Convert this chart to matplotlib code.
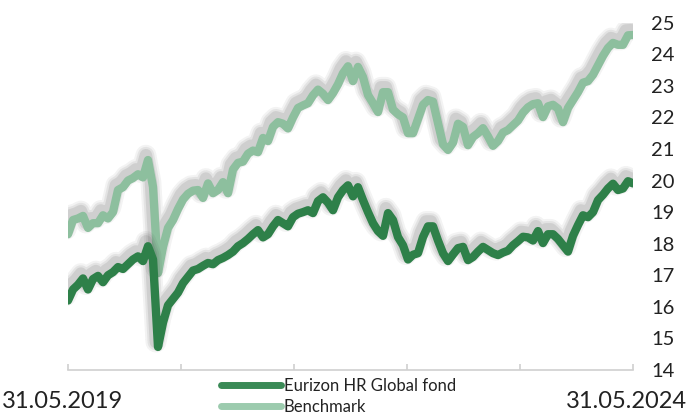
import numpy as np
import pandas as pd
import matplotlib
matplotlib.use("Agg")
import matplotlib.pyplot as plt
import matplotlib.patheffects as pe

plt.rcParams['font.family'] = ['Lato', 'DejaVu Sans']

# vrijednosti očitane s grafa (ravnomjerno raspoređene od 31.05.2019 do 31.05.2024)
fund = [16.2, 16.55, 16.7, 16.9, 16.55, 16.88, 16.98, 16.78, 17.0, 17.1,
        17.26, 17.2, 17.35, 17.5, 17.6, 17.45, 17.92, 17.5, 14.73, 15.5,
        16.05, 16.25, 16.45, 16.75, 16.95, 17.15, 17.2, 17.3, 17.39, 17.35,
        17.48, 17.55, 17.64, 17.75, 17.92, 18.02, 18.15, 18.3, 18.43, 18.2,
        18.3, 18.55, 18.75, 18.65, 18.55, 18.84, 18.95, 19.0, 19.06, 18.97,
        19.35, 19.47, 19.3, 19.06, 19.47, 19.7, 19.85, 19.5, 19.79, 19.38,
        19.0, 18.65, 18.4, 18.25, 18.97, 18.75, 18.21, 17.95, 17.5, 17.65,
        17.7, 18.21, 18.55, 18.55, 18.1, 17.7, 17.45, 17.66, 17.86, 17.9,
        17.48, 17.58, 17.75, 17.9, 17.8, 17.7, 17.64, 17.72, 17.78, 17.95,
        18.08, 18.22, 18.2, 18.1, 18.4, 18.02, 18.3, 18.3, 18.15, 17.95,
        17.75, 18.25, 18.59, 18.9, 18.84, 19.0, 19.38, 19.55, 19.75, 19.9,
        19.7, 19.75, 19.98, 19.91]

benchmark = [18.3, 18.75, 18.8, 18.88, 18.5, 18.65, 18.65, 18.9, 18.8, 19.0,
             19.7, 19.79, 20.0, 20.08, 20.2, 20.1, 20.65, 19.8, 17.07, 17.9,
             18.5, 18.75, 19.1, 19.4, 19.58, 19.68, 19.7, 19.45, 19.91, 19.6,
             19.7, 19.95, 19.6, 20.35, 20.56, 20.6, 20.85, 20.95, 20.9, 21.35,
             21.25, 21.7, 21.85, 21.8, 21.65, 22.0, 22.3, 22.38, 22.45, 22.7,
             22.88, 22.75, 22.55, 22.77, 23.05, 23.4, 23.62, 23.15, 23.6, 23.28,
             22.71, 22.45, 22.17, 22.8, 22.8, 22.25, 22.1, 22.0, 21.5, 21.5,
             21.95, 22.4, 22.55, 22.5, 21.82, 21.15, 20.97, 21.2, 21.8, 21.7,
             21.12, 21.38, 21.5, 21.66, 21.4, 21.1, 21.25, 21.52, 21.6, 21.75,
             21.9, 22.15, 22.32, 22.42, 22.45, 22.01, 22.35, 22.4, 22.28, 21.85,
             22.3, 22.55, 22.8, 23.1, 23.15, 23.35, 23.65, 23.95, 24.2, 24.36,
             24.3, 24.3, 24.6, 24.61]

labels = ['Eurizon HR Global fond', 'Benchmark']
start, end = '2019-05-31', '2024-05-31'
yticks = list(range(14, 26))

dates = pd.date_range(start, end, periods=len(fund))
year_ticks = pd.DatetimeIndex([pd.Timestamp(start) + pd.DateOffset(years=k) for k in range(6)])

fig = plt.figure(figsize=(6.89, 4.15), dpi=100)
ax = fig.add_axes([68 / 689, 45 / 415, 565 / 689, 347.3 / 415])

def shadow():
    fx = []
    for lw, a in [(15, 0.06), (12, 0.08), (9, 0.11)]:
        fx.append(pe.SimpleLineShadow(offset=(-1.5, 3.5), shadow_color='#333333',
                                      alpha=a, linewidth=lw))
    fx.append(pe.Normal())
    return fx

c_fund = '#2e8049'
c_bench = '#8dbf9e'
ax.plot(dates, benchmark, color=c_bench, lw=6, solid_capstyle='round',
        solid_joinstyle='round', path_effects=shadow(), label=labels[1])
ax.plot(dates, fund, color=c_fund, lw=6, solid_capstyle='round',
        solid_joinstyle='round', path_effects=shadow(), label=labels[0])

ax.set_xlim(pd.Timestamp(start), pd.Timestamp(end))
ax.set_ylim(14, 25)

for s in ['top', 'left', 'right']:
    ax.spines[s].set_visible(False)
ax.spines['bottom'].set_color('#d0d0d0')
ax.spines['bottom'].set_linewidth(1.2)

ax.yaxis.tick_right()
ax.set_yticks(yticks)
ax.tick_params(axis='y', length=0, pad=13, labelsize=14.5, labelcolor='#222222')

ax.set_xticks(year_ticks)
ax.set_xticklabels([])
ax.tick_params(axis='x', direction='in', length=4, width=1.2, color='#d0d0d0')

# datumi na krajevima osi
fig.text(2 / 689, 1 - 401 / 415, '31.05.2019', ha='left', va='center',
         fontsize=17, color='#222222')
fig.text(687 / 689, 1 - 401 / 415, '31.05.2024', ha='right', va='center',
         fontsize=17, color='#222222')

h = ax.get_legend_handles_labels()
handles = [h[0][1], h[0][0]]
leg = fig.legend(handles, labels, loc='upper left',
                 bbox_to_anchor=(221 / 689, 1 - 378 / 415), frameon=False,
                 fontsize=12, handlelength=3.6, handletextpad=0.15,
                 labelspacing=0.3, borderpad=0, borderaxespad=0)
for line in leg.get_lines():
    line.set_linewidth(5)
    line.set_path_effects([])
leg.get_lines()[0].set_color('#3a8a56')
leg.get_lines()[1].set_color('#9ccbae')
for t in leg.get_texts():
    t.set_color('#222222')

fig.savefig('out.png', dpi=100)
